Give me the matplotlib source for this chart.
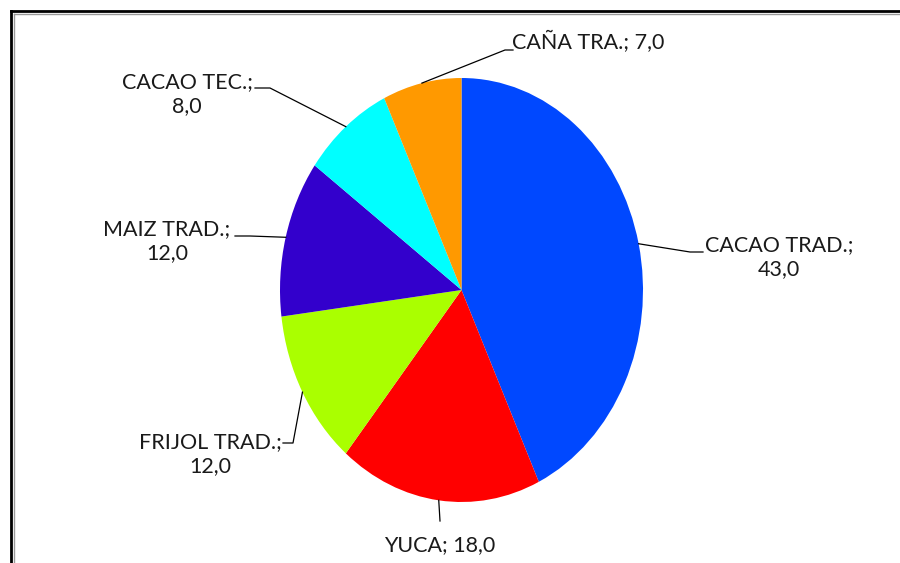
import numpy as np
import matplotlib
matplotlib.use("Agg")
import matplotlib.pyplot as plt
from matplotlib.lines import Line2D

# data
cultivos = ["CACAO TRAD.", "YUCA", "FRIJOL TRAD.", "MAIZ TRAD.", "CACAO TEC.", "CAÑA TRA."]
valores = [43.0, 18.0, 12.0, 12.0, 8.0, 7.0]
colores = ["#0048FF", "#FF0000", "#AAFF00", "#3300CC", "#00FFFF", "#FF9900"]

W, H = 900, 563
# pie box in pixels (it's stretched vertically in the original)
cx, cy, rx, ry = 461.5, 290.0, 181.5, 212.0

def px(x, y):
    # pixel position -> data coords of the pie axes
    return (x - cx) / rx, (cy - y) / ry

# label layout: text centre, line break, leader elbow / end (pixels)
lab_pos = [(779, 257), (440, 545), (210, 454), (167, 241), (187, 94), (588, 42)]
lab_two_lines = [True, False, True, True, True, False]
leader_pts = [[(690, 252), (703, 252)],
              [(440, 521)],
              [(293, 443), (283, 443)],
              [(250, 236), (235, 236)],
              [(270, 88), (255, 88)],
              [(505, 50), (513, 50)]]

plt.rcParams['font.family'] = ['Lato', 'DejaVu Sans']

fig = plt.figure(figsize=(W / 100, H / 100), dpi=100)
ax = fig.add_axes([(cx - rx) / W, (H - cy - ry) / H, 2 * rx / W, 2 * ry / H])

wedges, _ = ax.pie(valores, colors=colores, startangle=90, counterclock=False,
                   wedgeprops=dict(linewidth=0))
ax.set_aspect('auto')
ax.set_xlim(-1, 1)
ax.set_ylim(-1, 1)

for i, w in enumerate(wedges):
    mid = np.deg2rad((w.theta1 + w.theta2) / 2)
    xs = [np.cos(mid)]
    ys = [np.sin(mid)]
    for p in leader_pts[i]:
        a, b = px(*p)
        xs.append(a)
        ys.append(b)
    ax.plot(xs, ys, color="black", lw=0.9, clip_on=False)
    sep = "\n" if lab_two_lines[i] else " "
    txt = f"{cultivos[i]};{sep}" + f"{valores[i]:.1f}".replace(".", ",")
    tx, ty = px(*lab_pos[i])
    ax.text(tx, ty, txt, ha="center", va="center", multialignment="center",
            fontsize=15.5, color="#1a1a1a", linespacing=1.3)

# chart frame (only top and left edges show in the crop)
fig.add_artist(Line2D([11 / W, 11 / W], [0, 1 - 11 / H], color="black", lw=2))
fig.add_artist(Line2D([11 / W, 1], [1 - 11 / H, 1 - 11 / H], color="black", lw=2))
fig.add_artist(Line2D([13.5 / W, 13.5 / W], [0, 1 - 13.5 / H], color="#999999", lw=1))
fig.add_artist(Line2D([13.5 / W, 1], [1 - 13.5 / H, 1 - 13.5 / H], color="#999999", lw=1))

fig.savefig("out.png", dpi=100)
